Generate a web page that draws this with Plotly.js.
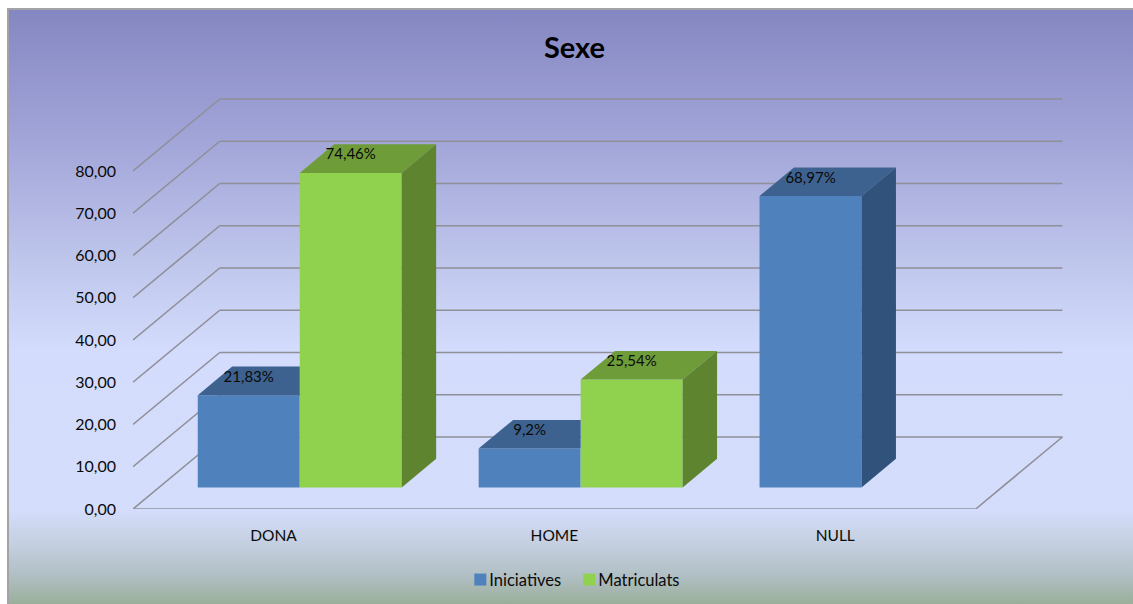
<!DOCTYPE html>
<html>
<head>
<meta charset="utf-8">
<script src="https://cdn.plot.ly/plotly-3.0.1.min.js"></script>
<style>
html,body{margin:0;padding:0;background:#fff;width:1133px;height:604px;overflow:hidden}
#bg{position:absolute;left:7px;top:8px;width:1126px;height:596px;box-sizing:border-box;border-left:2px solid #a3a3a6;border-top:2px solid #a3a3a6;
background:linear-gradient(to bottom,#8587c2 0px,#a2a5d8 130px,#bcc3ea 240px,#d3dcfc 340px,#d4ddfb 500px,#c3cfdf 535px,#b1bfc5 565px,#9aaf9a 594px)}
#chart{position:absolute;left:0;top:0;width:1133px;height:604px}
</style>
</head>
<body>
<div id="bg"></div>
<div id="chart"></div>
<script>
var categories = ['DONA', 'HOME', 'NULL'];
var iniciatives = [21.83, 9.2, 68.97];
var matriculats = [74.46, 25.54, null];
var iniciativesLabels = ['21,83%', '9,2%', '68,97%'];
var matriculatsLabels = ['74,46%', '25,54%', ''];
var yTicks = [0, 10, 20, 30, 40, 50, 60, 70, 80];
var yTickLabels = ['0,00', '10,00', '20,00', '30,00', '40,00', '50,00', '60,00', '70,00', '80,00'];

/* oblique projection, in axis units */
var wallDx = 0.3087, wallDy = 17.04;    // floor depth
var barDx = 0.1225, barDy = 6.79;       // bar depth
var floorBase = 5.09, groupShift = 0.0936, barW = 0.3631;
var labelLift = 4.1;
var gridColor = '#8f8f97';
var FONT = 'Lato, Carlito, sans-serif';
var colors = {
  ini: {front: '#4f81bd', top: '#3d628f', side: '#30527b'},
  mat: {front: '#90d24e', top: '#6e9c39', side: '#5e842f'}
};

var xs = categories.map(function (c, i) { return i; });
var iniX = xs.map(function (i) { return i + groupShift - barW / 2; });
var matX = xs.map(function (i) { return i + groupShift + barW / 2; });

/* back wall and side wall gridlines + floor */
var xL = -0.5, xR = 2.5;
var shapes = [];
function seg(x0, y0, x1, y1) {
  shapes.push({type: 'line', layer: 'below', xref: 'x', yref: 'y', x0: x0, y0: y0, x1: x1, y1: y1,
    line: {color: gridColor, width: 1.6}});
}
yTicks.forEach(function (t) {
  seg(xL, t, xL + wallDx, t + wallDy);
  seg(xL + wallDx, t + wallDy, xR + wallDx, t + wallDy);
});
seg(xL, 0, xR, 0);
seg(xR, 0, xR + wallDx, wallDy);

/* 3D faces as filled scatter polygons */
function poly(px, py, color) {
  return {type: 'scatter', mode: 'lines', x: px, y: py, fill: 'toself', fillcolor: color,
    line: {width: 0, color: color}, showlegend: false, hoverinfo: 'skip'};
}
var faces = [];
function addFaces(cx, v, c, nextV) {
  if (v === null) return;
  var x0 = cx - barW / 2, x1 = cx + barW / 2, y = floorBase + v;
  var hidden = nextV !== null && nextV !== undefined && nextV > v;
  var backRight = hidden ? x1 : x1 + barDx;
  faces.push(poly([x0, x1, backRight, x0 + barDx, x0], [y, y, y + barDy, y + barDy, y], c.top));
  if (!hidden) {
    faces.push(poly([x1, x1 + barDx, x1 + barDx, x1, x1],
      [floorBase, floorBase + barDy, y + barDy, y, floorBase], c.side));
  }
}
xs.forEach(function (i) {
  addFaces(iniX[i], iniciatives[i], colors.ini, matriculats[i]);
  addFaces(matX[i], matriculats[i], colors.mat, null);
});

function bars(name, vals, col) {
  return {type: 'bar', name: name, x: xs.map(function (i) { return i + groupShift; }), y: vals,
    base: vals.map(function () { return floorBase; }), marker: {color: col, line: {width: 0}}, hoverinfo: 'name+y'};
}
function labels(x, vals, txt) {
  return {type: 'scatter', mode: 'text', x: x,
    y: vals.map(function (v) { return v === null ? null : floorBase + v + labelLift; }),
    text: txt, textposition: 'middle center', textfont: {family: FONT, size: 15, color: '#0a0a0a'},
    showlegend: false, hoverinfo: 'skip'};
}

var traces = [bars('Iniciatives', iniciatives, colors.ini.front), bars('Matriculats', matriculats, colors.mat.front)]
  .concat(faces)
  .concat([labels(iniX, iniciatives, iniciativesLabels), labels(matX, matriculats, matriculatsLabels)]);

var layout = {
  width: 1133, height: 604,
  margin: {l: 133.3, r: 69.7, t: 90, b: 95, pad: 0},
  paper_bgcolor: 'rgba(0,0,0,0)', plot_bgcolor: 'rgba(0,0,0,0)',
  font: {family: FONT, color: '#0a0a0a', size: 16},
  title: {text: '<b>Sexe</b>', x: 0.507, xref: 'container', xanchor: 'center', y: 0.92, yref: 'container', yanchor: 'middle',
    font: {family: FONT, size: 29, color: '#000'}},
  barmode: 'group', bargap: 0.2738, bargroupgap: 0,
  xaxis: {range: [-0.5, 2.8108], tickmode: 'array', tickvals: xs, ticktext: categories,
    showgrid: false, zeroline: false, showline: false, ticks: '', ticklabelstandoff: 15, tickfont: {family: FONT, size: 15.5}},
  yaxis: {range: [0, 99.17], tickmode: 'array', tickvals: yTicks, ticktext: yTickLabels,
    showgrid: false, zeroline: false, showline: false, ticks: '', ticklabelstandoff: 16, tickfont: {family: FONT, size: 16}},
  shapes: shapes,
  showlegend: true,
  legend: {orientation: 'h', x: 0.5025, xref: 'container', xanchor: 'center', y: 0.04, yref: 'container', yanchor: 'middle',
    bgcolor: 'rgba(0,0,0,0)', font: {family: FONT, size: 16.5}, itemwidth: 30, entrywidth: 64, traceorder: 'normal'}
};
Plotly.newPlot('chart', traces, layout, {displayModeBar: false, responsive: false}).then(function () {
  document.querySelectorAll('.legendtext').forEach(function (t) {
    t.setAttribute('x', parseFloat(t.getAttribute('x')) - 11);
  });
  document.querySelectorAll('.legend .scrollbox').forEach(function (g) {
    g.removeAttribute('clip-path');
  });
});
</script>
</body>
</html>
